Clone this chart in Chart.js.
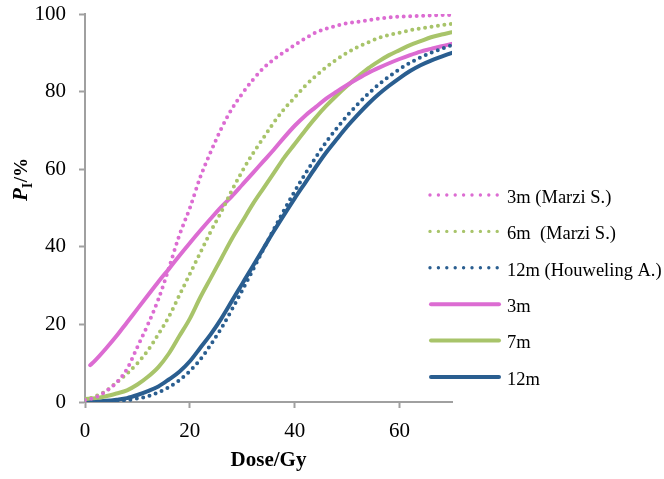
<!DOCTYPE html>
<html>
<head>
<meta charset="utf-8">
<script src="https://cdn.jsdelivr.net/npm/chart.js@4.4.1/dist/chart.umd.min.js"></script>
<style>
  html, body { margin: 0; padding: 0; background: #fff; }
  #wrap { width: 664px; height: 479px; }
</style>
</head>
<body>
<div id="wrap"><canvas id="ntcp"></canvas></div>
<script>
// dose grid (Gy) shared by most curves
const doses = [0, 2, 4, 6, 8, 10, 12, 14, 16, 18, 20, 22, 24, 26, 28, 30, 32, 34,
  36, 38, 40, 42, 44, 46, 48, 50, 52, 54, 56, 58, 60, 62, 64, 66, 68, 70];
// the 3m fitted curve starts at 1 Gy
const doses3m = [1, 2, 4, 6, 8, 10, 12, 14, 16, 18, 20, 22, 24, 26, 28, 30, 32, 34,
  36, 38, 40, 42, 44, 46, 48, 50, 52, 54, 56, 58, 60, 62, 64, 66, 68, 70];

const seriesLabels = ['3m (Marzi S.)', '6m  (Marzi S.)', '12m (Houweling A.)', '3m', '7m', '12m'];

// incidence P_I (%)
const marzi3m = [0.5, 1.2, 2.8, 5, 8.5, 14.2, 20, 26.5, 34.5, 43, 50, 58, 64.5, 70.5, 75.5, 79.5, 83, 86,
  88.3, 90.2, 92, 93.7, 95.2, 96.2, 97, 97.6, 98, 98.4, 98.8, 99.1, 99.3, 99.4, 99.5, 99.6, 99.7, 99.8];
const marzi6m = [0.5, 1.5, 2.8, 5, 7.3, 10, 13.3, 17.5, 22, 27.5, 33, 38.5, 44, 49, 54.5, 59.5, 64, 68,
  72, 75.5, 78.5, 81.5, 84, 86.3, 88.3, 90, 91.5, 92.7, 93.8, 94.6, 95.2, 95.8, 96.3, 96.7, 97.1, 97.5];
const houweling12m = [0, 0.05, 0.1, 0.3, 0.5, 0.9, 1.5, 2.5, 3.8, 5.6, 8, 11, 14.8, 19, 23.8, 28.8, 34, 39.3,
  44.5, 49.5, 54.3, 58.8, 63, 67, 70.5, 73.8, 76.7, 79.4, 81.8, 83.9, 85.8, 87.4, 88.8, 90, 91, 92];
const fit3m = [9.5, 10.8, 13.8, 17, 20.5, 24, 27.5, 31, 34.3, 37.7, 41, 44.2, 47.3, 50.3, 53, 56, 59, 62,
  65, 68.2, 71.2, 73.8, 76, 78.2, 80, 81.7, 83.3, 84.8, 86.1, 87.3, 88.4, 89.4, 90.3, 91, 91.7, 92.3];
const fit7m = [0.8, 1, 1.5, 2.2, 3, 4.5, 6.5, 9, 12.5, 17, 21.5, 27, 32, 37, 42, 46.5, 51, 55,
  59, 63, 66.5, 70, 73.3, 76.3, 79, 81.5, 83.8, 86, 87.8, 89.4, 90.7, 92, 93, 94, 94.7, 95.3];
const fit12m = [0, 0.1, 0.3, 0.6, 1, 1.8, 2.8, 4, 5.8, 7.8, 10.5, 14, 17.5, 21.5, 26, 30.5, 35, 39.5,
  44, 48.3, 52.5, 56.5, 60.5, 64.3, 67.7, 71, 74, 76.8, 79.3, 81.5, 83.5, 85.3, 86.8, 88, 89, 90];

const xTicks = [0, 20, 40, 60];
const yTicks = [0, 20, 40, 60, 80, 100];

const PINK = '#DC6CD2';
const GREEN = '#A8C46A';
const BLUE = '#2A5E90';
const AXIS = '#A0A0A0';
const SERIF = '"Liberation Serif", "Times New Roman", serif';

function pts(xs, ys) {
  return xs.map((x, i) => ({ x: x, y: ys[i] }));
}

function curve(label, xs, ys, color, dotted) {
  return {
    label: label,
    data: pts(xs, ys),
    borderColor: color,
    backgroundColor: color,
    borderWidth: 4,
    borderDash: dotted ? [0, 6.5] : [],
    borderCapStyle: 'round',
    pointRadius: 0,
    cubicInterpolationMode: 'monotone',
    fill: false
  };
}

// legend sits inside the right part of the canvas, drawn by hand
const sideLegend = {
  id: 'sideLegend',
  afterDraw(chart) {
    const ctx = chart.ctx;
    ctx.save();
    ctx.font = '18.5px ' + SERIF;
    ctx.textBaseline = 'middle';
    chart.data.datasets.forEach((ds, i) => {
      const y = 195 + i * 36.4;
      ctx.beginPath();
      ctx.strokeStyle = ds.borderColor;
      ctx.lineCap = 'round';
      if (ds.borderDash.length) {
        ctx.lineWidth = 3.4;
        ctx.setLineDash([0, 8.4]);
        ctx.moveTo(430, y);
        ctx.lineTo(498, y);
      } else {
        ctx.lineWidth = 4;
        ctx.setLineDash([]);
        ctx.moveTo(431, y);
        ctx.lineTo(499, y);
      }
      ctx.stroke();
      ctx.fillStyle = '#000';
      ctx.fillText(ds.label, 507, y + 3);
    });
    ctx.restore();
  }
};

// y title with a subscript: P_I/%
const yTitle = {
  id: 'yTitle',
  afterDraw(chart) {
    const ctx = chart.ctx;
    ctx.save();
    ctx.translate(27, 201);
    ctx.rotate(-Math.PI / 2);
    ctx.fillStyle = '#000';
    ctx.textBaseline = 'alphabetic';
    ctx.font = 'italic bold 21px ' + SERIF;
    ctx.fillText('P', 0, 0);
    let x = ctx.measureText('P').width;
    ctx.font = 'bold 14px ' + SERIF;
    ctx.fillText('I', x, 5);
    x += ctx.measureText('I').width + 0.5;
    ctx.font = 'bold 19px ' + SERIF;
    ctx.fillText('/%', x, 0);
    ctx.restore();
  }
};

new Chart(document.getElementById('ntcp'), {
  type: 'line',
  data: {
    datasets: [
      curve(seriesLabels[0], doses, marzi3m, PINK, true),
      curve(seriesLabels[1], doses, marzi6m, GREEN, true),
      curve(seriesLabels[2], doses, houweling12m, BLUE, true),
      curve(seriesLabels[3], doses3m, fit3m, PINK, false),
      curve(seriesLabels[4], doses, fit7m, GREEN, false),
      curve(seriesLabels[5], doses, fit12m, BLUE, false)
    ]
  },
  options: {
    responsive: true,
    maintainAspectRatio: false,
    animation: false,
    layout: { padding: { top: 0, right: 212, left: 0, bottom: 0 } },
    plugins: {
      legend: { display: false },
      tooltip: { enabled: false }
    },
    scales: {
      x: {
        type: 'linear',
        min: 0,
        max: 70,
        afterBuildTicks: s => { s.ticks = xTicks.map(v => ({ value: v })); },
        afterFit: s => { s.height = 77; },
        ticks: { color: '#000', font: { family: SERIF, size: 21 }, padding: 11, maxRotation: 0 },
        grid: { drawOnChartArea: false, drawTicks: true, tickLength: 6, tickWidth: 2, color: AXIS },
        border: { color: AXIS, width: 2 },
        title: {
          display: true,
          text: 'Dose/Gy',
          color: '#000',
          font: { family: SERIF, size: 21, weight: 'bold' },
          padding: { top: 0, bottom: 6 }
        }
      },
      y: {
        min: 0,
        max: 100,
        afterBuildTicks: s => { s.ticks = yTicks.map(v => ({ value: v })); },
        afterFit: s => { s.width = 85; s.paddingTop = 14; s.paddingBottom = 0; },
        ticks: { color: '#000', font: { family: SERIF, size: 21 }, padding: 13 },
        grid: { drawOnChartArea: false, drawTicks: true, tickLength: 6, tickWidth: 2, color: AXIS },
        border: { color: AXIS, width: 2 }
      }
    }
  },
  plugins: [sideLegend, yTitle]
});
</script>
</body>
</html>
